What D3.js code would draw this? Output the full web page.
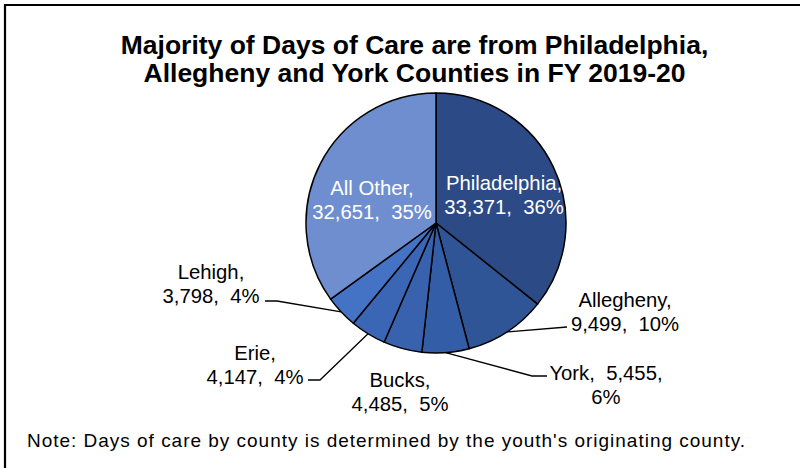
<!DOCTYPE html>
<html>
<head>
<meta charset="utf-8">
<script src="https://cdn.jsdelivr.net/npm/d3@7"></script>
<style>
  html, body { margin: 0; padding: 0; background: #fff; }
  svg { display: block; font-family: "Liberation Sans", Arial, sans-serif; }
</style>
</head>
<body>
<svg id="chart" width="800" height="468"></svg>
<script>
// ---- data ----
const counties = ["Philadelphia", "Allegheny", "York", "Bucks", "Erie", "Lehigh", "All Other"];
const days = [33371, 9499, 5455, 4485, 4147, 3798, 32651];
const percents = ["36%", "10%", "6%", "5%", "4%", "4%", "35%"];
const colors = ["#2C4A85", "#2F5597", "#335DA6", "#3862AE", "#3B66B6", "#4472C4", "#6F8ED0"];
const titleLines = ["Majority of Days of Care are from Philadelphia,", "Allegheny and York Counties in FY 2019-20"];
const note = "Note: Days of care by county is determined by the youth's originating county.";

// ---- layout (label text block centre and leader points, relative to pie centre) ----
const labelLayout = [
  { lines: d => [d.name + ",", d.fmt + ",  " + d.pct], dx: 68, dy: -40, fill: "#fff", leader: null },
  { lines: d => [d.name + ",", d.fmt + ",  " + d.pct], dx: 189, dy: 77, fill: "#000", leader: [[131, 104]] },
  { lines: d => [d.name + ",  " + d.fmt + ",", d.pct], dx: 170, dy: 150, fill: "#000", leader: [[96, 153], [111, 153]] },
  { lines: d => [d.name + ",", d.fmt + ",  " + d.pct], dx: -36, dy: 157, fill: "#000", leader: null },
  { lines: d => [d.name + ",", d.fmt + ",  " + d.pct], dx: -181, dy: 130, fill: "#000", leader: [[-116, 157], [-128, 157]] },
  { lines: d => [d.name + ",", d.fmt + ",  " + d.pct], dx: -225, dy: 49, fill: "#000", leader: [[-159, 78], [-171, 78]] },
  { lines: d => [d.name + ",", d.fmt + ",  " + d.pct], dx: -64, dy: -35, fill: "#fff", leader: null }
];

const svg = d3.select("#chart");

// frame (top and left edges visible)
svg.append("path")
  .attr("d", "M5,468 L5,5 L800,5")
  .attr("fill", "none").attr("stroke", "#000").attr("stroke-width", 2.2);

// title
svg.append("text")
  .attr("text-anchor", "middle")
  .attr("font-weight", "bold").attr("font-size", 26.5)
  .selectAll("tspan").data(titleLines).join("tspan")
  .attr("x", 414.5).attr("y", (d, i) => 54 + i * 28)
  .text(d => d);

// pie
const cx = 436, cy = 223, R = 130;
const data = counties.map((c, i) => ({
  name: c, value: days[i], pct: percents[i], color: colors[i],
  fmt: d3.format(",")(days[i]), layout: labelLayout[i]
}));
const pie = d3.pie().value(d => d.value).sort(null);
const arcs = pie(data);
const arc = d3.arc().innerRadius(0).outerRadius(R);

const g = svg.append("g").attr("transform", `translate(${cx},${cy})`);
g.selectAll("path.slice").data(arcs).join("path")
  .attr("class", "slice")
  .attr("d", arc)
  .attr("fill", d => d.data.color)
  .attr("stroke", "#000").attr("stroke-width", 1.5)
  .attr("stroke-linejoin", "round");

// leader lines
arcs.forEach(a => {
  const L = a.data.layout.leader;
  if (!L) return;
  const mid = (a.startAngle + a.endAngle) / 2;
  const start = [Math.sin(mid) * R, -Math.cos(mid) * R];
  g.append("path")
    .attr("d", d3.line()([start, ...L]))
    .attr("fill", "none").attr("stroke", "#000").attr("stroke-width", 1.3);
});

// labels
const lineH = 24;
arcs.forEach(a => {
  const L = a.data.layout;
  const lines = L.lines(a.data);
  const t = g.append("text")
    .attr("text-anchor", "middle")
    .attr("font-size", 20.3)
    .attr("fill", L.fill);
  lines.forEach((s, i) => {
    t.append("tspan")
      .attr("x", L.dx)
      .attr("y", L.dy + i * lineH + 7)
      .style("white-space", "pre")
      .text(s);
  });
});

// note
svg.append("text")
  .attr("x", 27).attr("y", 447)
  .attr("font-size", 19)
  .attr("textLength", 718)
  .attr("lengthAdjust", "spacing")
  .text(note);
</script>
</body>
</html>
